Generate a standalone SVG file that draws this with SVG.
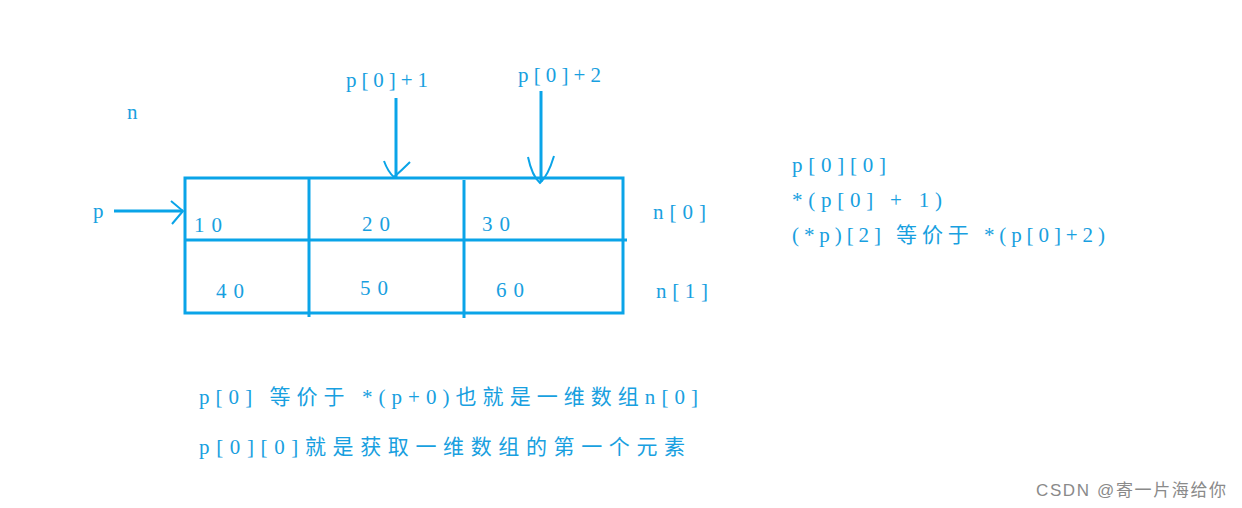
<svg xmlns="http://www.w3.org/2000/svg" width="1242" height="508" viewBox="0 0 1242 508">
<style>
text{font-family:"Liberation Serif","Noto Sans CJK SC",serif;font-size:21px;fill:#18a0e0}
.l{stroke:#0aa4e8;stroke-width:3;fill:none}
.a{stroke:#0aa4e8;stroke-width:2;fill:none}
.w{font-family:"Liberation Sans","Noto Sans CJK SC",sans-serif;font-size:17px;fill:#8a8a8a}
</style>
<rect width="1242" height="508" fill="#fff"/>
<g id="array">
<rect class="l" x="185" y="178" width="438" height="135"/>
<line class="l" x1="185" y1="240" x2="627" y2="240"/>
<line class="l" x1="309" y1="178" x2="309" y2="317"/>
<line class="l" x1="464" y1="180" x2="464" y2="318"/>
<text x="194" y="232" textLength="28" lengthAdjust="spacing">10</text><text x="362" y="231" textLength="28" lengthAdjust="spacing">20</text><text x="482" y="231" textLength="28" lengthAdjust="spacing">30</text>
<text x="216" y="298" textLength="28" lengthAdjust="spacing">40</text><text x="360" y="295" textLength="28" lengthAdjust="spacing">50</text><text x="496" y="297" textLength="28" lengthAdjust="spacing">60</text>
</g>
<g id="labels">
<text x="127" y="119">n</text>
<text x="93" y="218">p</text>
<text x="346" y="87" textLength="82" lengthAdjust="spacing">p[0]+1</text>
<text x="518" y="82" textLength="83" lengthAdjust="spacing">p[0]+2</text>
<text x="653" y="219" textLength="53" lengthAdjust="spacing">n[0]</text>
<text x="656" y="298" textLength="52" lengthAdjust="spacing">n[1]</text>
<text x="792" y="172" textLength="94" lengthAdjust="spacing">p[0][0]</text>
<text x="792" y="207" textLength="150" lengthAdjust="spacing">*(p[0] + 1)</text>
<text x="792" y="242" textLength="313" lengthAdjust="spacing">(*p)[2]  等价于 *(p[0]+2)</text>
<text x="199" y="404" textLength="499" lengthAdjust="spacing">p[0] 等价于 *(p+0)也就是一维数组n[0]</text>
<text x="199" y="454" textLength="486" lengthAdjust="spacing">p[0][0]就是获取一维数组的第一个元素</text>
<text class="w" x="1036" y="496" textLength="190" lengthAdjust="spacing">CSDN @寄一片海给你</text>
</g>
<g id="connectors">
<line class="l" x1="114" y1="211" x2="183" y2="211"/>
<path class="a" d="M171 201 L183 211 L172 224"/>
<line class="l" x1="396" y1="98" x2="396" y2="177"/>
<path class="a" d="M384 161 Q388 172 394 177 Q402 170 410 162"/>
<line class="l" x1="541" y1="91" x2="541" y2="182"/>
<path class="a" d="M528 157 Q532 176 540 183 Q548 176 554 156"/>
</g>
</svg>
